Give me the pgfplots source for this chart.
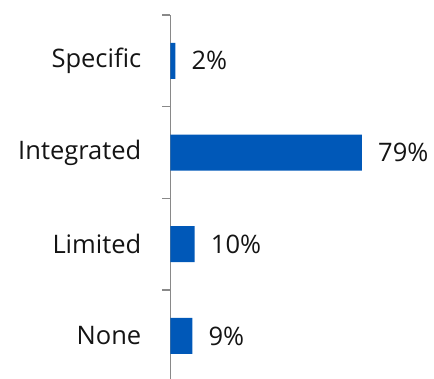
\documentclass[border=0pt]{standalone}
\usepackage{pgfplots}
\pgfplotsset{compat=1.18}
\usepackage{fontspec}
\setmainfont{Open Sans}
\definecolor{barblue}{RGB}{0,88,184}
\definecolor{axgray}{RGB}{137,137,137}
\definecolor{txt}{RGB}{20,20,20}
\begin{document}
\begin{tikzpicture}
\useasboundingbox (-170.5pt,2.8pt) rectangle (263.5pt,381.8pt);
\begin{axis}[
  at={(0,0)}, anchor=south west,
  scale only axis,
  width=242.4pt, height=366.8pt,
  xbar, bar width=36pt,
  xmin=0, xmax=100,
  ymin=-0.5, ymax=3.5,
  enlarge y limits=false,
  axis x line=none,
  axis y line*=left,
  y axis line style={draw=axgray, line width=1.5pt},
  ytick={0,1,2,3},
  yticklabels={None,Limited,Integrated,Specific},
  major tick length=0pt,
  minor ytick={-0.5,0.5,1.5,2.5,3.5},
  minor tick length=8pt,
  tick align=outside,
  every minor tick/.style={draw=axgray, line width=1.5pt},
  y tick label style={anchor=east, inner sep=0pt, xshift=-29pt, font=\fontsize{25.5}{30}\selectfont, text=txt},
  /pgf/number format/assume math mode=true,
  nodes near coords={\pgfmathprintnumber{\pgfplotspointmeta}\%},
  nodes near coords style={anchor=west, inner sep=0pt, xshift=16pt, font=\fontsize{25.5}{30}\selectfont, text=txt},
  point meta=explicit,
]
\addplot[fill=barblue, draw=none] coordinates {
  (9,0) [9]
  (10,1) [10]
  (79,2) [79]
  (2,3) [2]
};
\end{axis}
\end{tikzpicture}
\end{document}
